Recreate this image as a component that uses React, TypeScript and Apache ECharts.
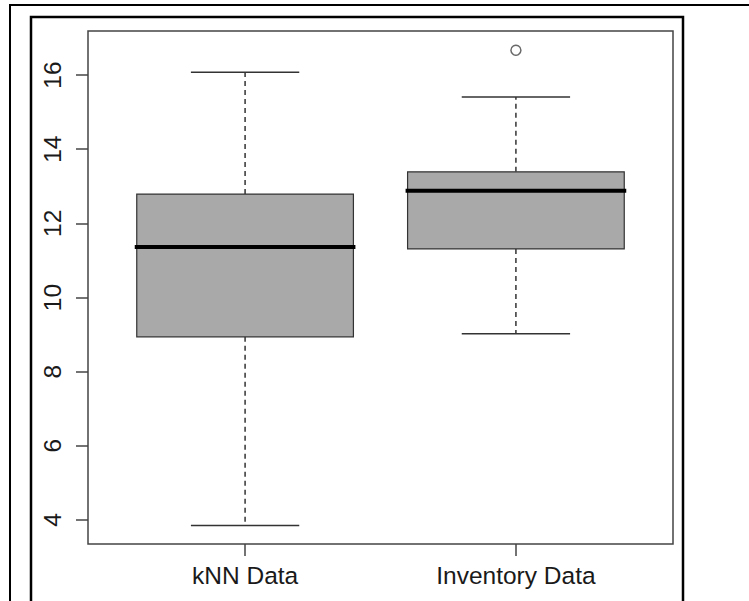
import React, { useEffect, useRef } from "react";
import * as echarts from "echarts";

const categories = ["kNN Data", "Inventory Data"];
const mins = [3.85, 9.02];
const q1s = [8.94, 11.31];
const medians = [11.36, 12.88];
const q3s = [12.79, 13.39];
const maxs = [16.08, 15.41];
const outliers: [number, number][] = [[2, 16.67]];
const yTicks = [4, 6, 8, 10, 12, 14, 16];
const xTicks = [1, 2];

export default function App() {
  const ref = useRef<HTMLDivElement>(null);
  useEffect(() => {
    if (!ref.current) return;
    const chart = echarts.init(ref.current, null, { renderer: "svg" });
    const boxData = categories.map((_, i) => [i + 1, mins[i], q1s[i], medians[i], q3s[i], maxs[i]]);
    const font = "Liberation Sans, Arial, sans-serif";
    chart.setOption({
      animation: false,
      backgroundColor: "#fff",
      grid: {
        left: 88,
        top: 31,
        right: 76,
        bottom: 57,
        show: true,
        borderColor: "#444",
        borderWidth: 1.5,
        backgroundColor: "transparent",
      },
      xAxis: {
        type: "value",
        min: 0.42,
        max: 2.58,
        splitLine: { show: false },
        axisLine: { show: false },
        axisTick: { show: true, length: 12, lineStyle: { color: "#444", width: 1.5 }, customValues: xTicks },
        axisLabel: {
          customValues: xTicks,
          formatter: (v: number) => categories[Math.round(v) - 1] ?? "",
          fontSize: 24.5,
          fontFamily: font,
          color: "#1a1a1a",
          margin: 19,
        },
      },
      yAxis: {
        type: "value",
        min: 3.35,
        max: 17.19,
        splitLine: { show: false },
        axisLine: { show: false },
        axisTick: { show: true, length: 12, lineStyle: { color: "#444", width: 1.5 }, customValues: yTicks },
        axisLabel: {
          customValues: yTicks,
          rotate: 90,
          fontSize: 24.5,
          fontFamily: font,
          color: "#1a1a1a",
          margin: 23,
        },
      },
      graphic: [
        { type: "rect", shape: { x: 10, y: 5, width: 900, height: 900 }, style: { fill: "none", stroke: "#000", lineWidth: 2 }, silent: true },
        { type: "rect", shape: { x: 31, y: 17, width: 652, height: 900 }, style: { fill: "none", stroke: "#000", lineWidth: 2.5 }, silent: true },
      ],
      series: [
        {
          type: "custom",
          clip: false,
          data: boxData,
          encode: { x: 0, y: [1, 2, 3, 4, 5] },
          renderItem: (params: any, api: any) => {
            const x = api.value(0);
            const pLo = api.coord([x, api.value(1)]);
            const pQ1 = api.coord([x, api.value(2)]);
            const pMed = api.coord([x, api.value(3)]);
            const pQ3 = api.coord([x, api.value(4)]);
            const pHi = api.coord([x, api.value(5)]);
            const cx = pMed[0];
            const halfW = api.size([0.4, 0])[0];
            const sHalf = halfW / 2;
            const wStyle = { stroke: "#333", lineWidth: 1.5, lineDash: [5, 4] };
            const sStyle = { stroke: "#333", lineWidth: 1.5 };
            return {
              type: "group",
              children: [
                { type: "line", shape: { x1: cx, y1: pQ3[1], x2: cx, y2: pHi[1] }, style: wStyle },
                { type: "line", shape: { x1: cx, y1: pQ1[1], x2: cx, y2: pLo[1] }, style: wStyle },
                { type: "line", shape: { x1: cx - sHalf, y1: pHi[1], x2: cx + sHalf, y2: pHi[1] }, style: sStyle },
                { type: "line", shape: { x1: cx - sHalf, y1: pLo[1], x2: cx + sHalf, y2: pLo[1] }, style: sStyle },
                {
                  type: "rect",
                  shape: { x: cx - halfW, y: pQ3[1], width: 2 * halfW, height: pQ1[1] - pQ3[1] },
                  style: { fill: "#A9A9A9", stroke: "#333", lineWidth: 1.2 },
                },
                {
                  type: "line",
                  shape: { x1: cx - halfW - 2, y1: pMed[1], x2: cx + halfW + 2, y2: pMed[1] },
                  style: { stroke: "#000", lineWidth: 4 },
                },
              ],
            };
          },
        },
        {
          type: "scatter",
          data: outliers,
          symbol: "circle",
          symbolSize: 10,
          itemStyle: { color: "#fff", borderColor: "#444", borderWidth: 1.5 },
        },
      ],
    });
    return () => chart.dispose();
  }, []);
  return <div ref={ref} style={{ position: "absolute", left: 0, top: 0, width: 749, height: 601 }} />;
}
